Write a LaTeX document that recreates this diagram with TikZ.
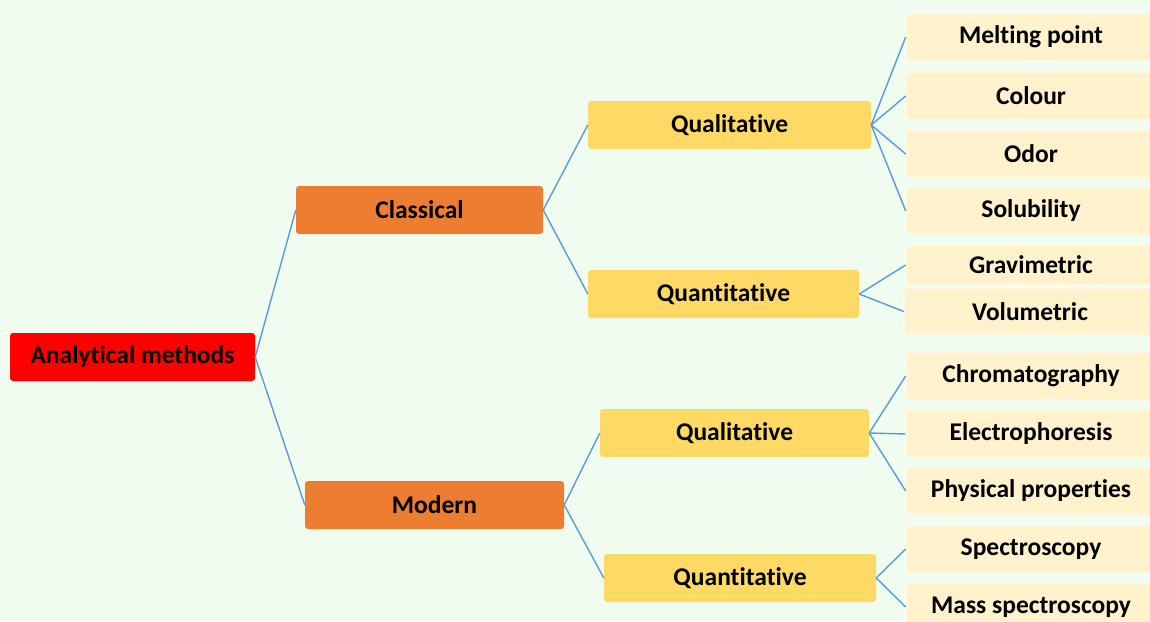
\documentclass[tikz,border=0pt]{standalone}
\usepackage{fontspec}
\setmainfont[Ligatures=NoCommon]{Carlito}
\usetikzlibrary{positioning,calc}

\definecolor{bgmint}{HTML}{EFFCEF}
\definecolor{rootred}{HTML}{FF0000}
\definecolor{branchorange}{HTML}{ED7D31}
\definecolor{typeyellow}{HTML}{FFD966}
\definecolor{leafcream}{HTML}{FFF2CC}
\definecolor{linkblue}{HTML}{5B9BD5}

\begin{document}
\begin{tikzpicture}[x=1pt,y=-1pt,
    box/.style={rounded corners=3pt,inner sep=0pt,font=\fontsize{25.5}{29}\selectfont\bfseries,text=black},
    rootbox/.style={box,fill=rootred,minimum width=245pt,minimum height=48pt},
    branchbox/.style={box,fill=branchorange,minimum height=48pt},
    typebox/.style={box,fill=typeyellow,minimum height=48pt},
    leafbox/.style={box,fill=leafcream,draw=white,line width=0.6pt,minimum width=250pt,minimum height=48pt},
    link/.style={draw=linkblue,line width=1.4pt}]
    \fill[bgmint] (0,0) rectangle (1150,621);
    \clip (0,0) rectangle (1150,621);
    % root and branches
    \node[rootbox] (root) at (132.5,357) {Analytical methods};
    \node[branchbox,minimum width=247pt] (classical) at (419.5,210) {Classical};
    \node[branchbox,minimum width=259pt] (modern) at (434.5,505) {Modern};
    \node[typebox,minimum width=283pt] (cqual) at (729.5,125) {Qualitative};
    \node[typebox,minimum width=271pt] (cquant) at (723.5,294) {Quantitative};
    \node[typebox,minimum width=269pt] (mqual) at (734.5,433) {Qualitative};
    \node[typebox,minimum width=272pt] (mquant) at (740,578) {Quantitative};
    % leaves
    \node[leafbox] (melt) at (1031,37) {Melting point};
    \node[leafbox] (colour) at (1031,96) {Colour};
    \node[leafbox] (odor) at (1031,154) {Odor};
    \node[leafbox] (solub) at (1031,211) {Solubility};
    \node[leafbox,minimum height=40pt] (gravi) at (1031,265) {Gravimetric};
    \node[leafbox,minimum height=47pt,minimum width=252pt] (volu) at (1030,311.5) {Volumetric};
    \node[leafbox] (chroma) at (1031,376) {Chromatography};
    \node[leafbox] (electro) at (1031,434) {Electrophoresis};
    \node[leafbox] (phys) at (1031,491) {Physical properties};
    \node[leafbox] (spectro) at (1031,549) {Spectroscopy};
    \node[leafbox] (mass) at (1031,607) {Mass spectroscopy};
    % connectors
    \foreach \a/\b in {root/classical,root/modern,classical/cqual,classical/cquant,
                       modern/mqual,modern/mquant}{
      \path[link] (\a.east) -- (\b.west);
    }
    \foreach \b in {melt,colour,odor,solub}{
      \path[link] (cqual.east) -- (\b.west);
    }
    \foreach \b in {gravi,volu}{
      \path[link] (cquant.east) -- (\b.west);
    }
    \foreach \b in {chroma,electro,phys}{
      \path[link] (mqual.east) -- (\b.west);
    }
    \foreach \b in {spectro,mass}{
      \path[link] (mquant.east) -- (\b.west);
    }
\end{tikzpicture}
\end{document}
